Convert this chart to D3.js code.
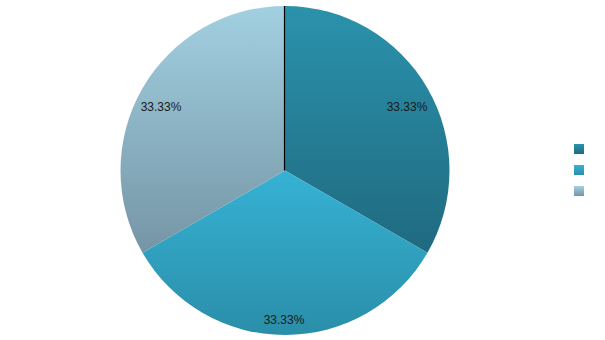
<!DOCTYPE html>
<html><head><meta charset="utf-8">
<script src="https://cdn.jsdelivr.net/npm/d3@7"></script>
<style>body{margin:0;background:#fff}svg{display:block}</style>
</head><body>
<svg id="c" width="605" height="340"></svg>
<script>
const categories = ["", "", ""];
const values = [1, 1, 1];
const colorsTop = ["#2b92ac", "#36b2d4", "#a2d0e1"];
const colorsBottom = ["#1f6a80", "#2a8ea9", "#7595a5"];

const svg = d3.select("#c");
const defs = svg.append("defs");
colorsTop.forEach((c, i) => {
  const g = defs.append("linearGradient").attr("id", "g" + i)
    .attr("x1", 0).attr("y1", 0).attr("x2", 0).attr("y2", 1);
  g.append("stop").attr("offset", "0%").attr("stop-color", c);
  g.append("stop").attr("offset", "100%").attr("stop-color", colorsBottom[i]);
});

const cx = 285, cy = 170.5, R = 164.5;
const total = d3.sum(values);
const pie = d3.pie().sort(null).value(d => d)(values);
const arc = d3.arc().innerRadius(0).outerRadius(R);
const labelArc = d3.arc().innerRadius(142).outerRadius(142);

const g = svg.append("g").attr("transform", `translate(${cx},${cy})`);
g.selectAll("path.s").data(pie).join("path").attr("class", "s")
  .attr("d", arc).attr("fill", (d, i) => `url(#g${i})`);

g.append("line").attr("x1", -0.5).attr("y1", 0).attr("x2", -0.5).attr("y2", -R)
  .attr("stroke", "#000").attr("stroke-width", 1.2);

g.selectAll("text.l").data(pie).join("text").attr("class", "l")
  .attr("transform", d => { const [x, y] = labelArc.centroid(d); return `translate(${x - 1},${y + 7.5})`; })
  .attr("text-anchor", "middle").attr("dominant-baseline", "central")
  .attr("font-family", "Liberation Sans, Arial, sans-serif").attr("font-size", 12)
  .attr("fill", "#1a1a1a")
  .text(d => (d.value / total * 100).toFixed(2) + "%");

const leg = svg.append("g").attr("transform", "translate(574,144)");
const li = leg.selectAll("g").data(categories).join("g")
  .attr("transform", (d, i) => `translate(0,${i * 21})`);
li.append("rect").attr("width", 10).attr("height", 10).attr("fill", (d, i) => `url(#g${i})`);
li.append("text").attr("x", 14).attr("y", 9).attr("font-size", 11)
  .attr("font-family", "Liberation Sans, Arial, sans-serif").text(d => d);
</script>
</body></html>
